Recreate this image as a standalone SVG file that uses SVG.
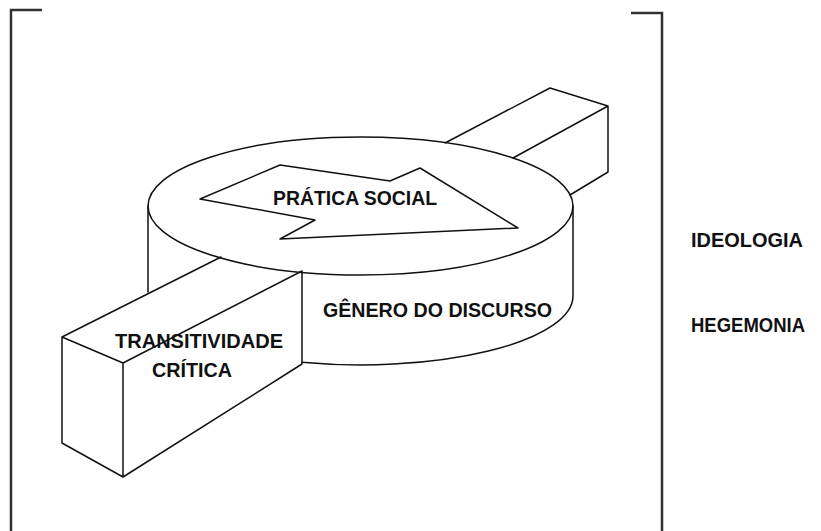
<svg xmlns="http://www.w3.org/2000/svg" width="821" height="531" viewBox="0 0 821 531">
<style>
.ln{fill:none;stroke:#111;stroke-width:1.5;stroke-linejoin:round;stroke-linecap:round}
.br{fill:none;stroke:#333;stroke-width:2.5}
.t{font-family:"Liberation Sans",Arial,sans-serif;font-weight:bold;font-size:20px;fill:#111}
</style>
<rect width="821" height="531" fill="#fff"/>
<g id="bracket-left"><path class="br" d="M42,10 H11 V531"/></g>
<g id="bracket-right"><path class="br" d="M631,13 H662 V531"/></g>
<g id="back-box">
<path class="ln" d="M445,143 L550,88 L608,106 L513,158 M608,106 L608,172 L570,195"/>
</g>
<g id="cylinder">
<ellipse class="ln" cx="360.5" cy="206" rx="212.5" ry="69"/>
<path class="ln" d="M148,206 V292 M573,206 V296 M573,296 A212.5,69 0 0 1 302,362.3"/>
</g>
<g id="arrow">
<polygon class="ln" points="200,199 280,165 390,181 420,168 518,228 280,239 315,220"/>
</g>
<g id="front-box">
<path class="ln" d="M62,337 L221,257 M62,337 L123,363 L302,271 M62,337 V443 L123,477 L302,364 M123,363 V477 M302,271 V364"/>
</g>
<g id="labels">
<text class="t" x="273" y="205" textLength="164" lengthAdjust="spacingAndGlyphs">PRÁTICA SOCIAL</text>
<text class="t" x="323" y="317" textLength="229" lengthAdjust="spacingAndGlyphs">GÊNERO DO DISCURSO</text>
<text class="t" x="115" y="348" textLength="168" lengthAdjust="spacingAndGlyphs">TRANSITIVIDADE</text>
<text class="t" x="152" y="377" textLength="80" lengthAdjust="spacingAndGlyphs">CRÍTICA</text>
<text class="t" x="691" y="247" textLength="112" lengthAdjust="spacingAndGlyphs">IDEOLOGIA</text>
<text class="t" x="691" y="332" textLength="114" lengthAdjust="spacingAndGlyphs">HEGEMONIA</text>
</g>
</svg>
